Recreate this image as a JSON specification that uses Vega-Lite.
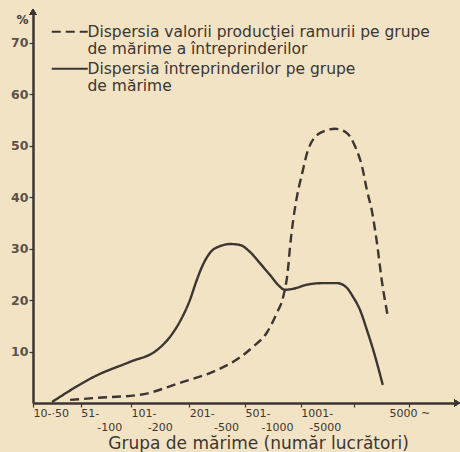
{
  "$schema": "https://vega.github.io/schema/vega-lite/v6.json",
  "width": 424,
  "height": 391,
  "autosize": {"type": "none"},
  "padding": {"left": 33, "top": 12, "right": 3, "bottom": 49},
  "background": "#f3e3c5",
  "config": {"view": {"stroke": null}, "font": "DejaVu Sans"},
  "datasets": {
    "curves": [
      {"series": "Dispersia valorii producţiei ramurii pe grupe de mărime a întreprinderilor", "g": 0.70, "pct": 0.6},
      {"series": "Dispersia valorii producţiei ramurii pe grupe de mărime a întreprinderilor", "g": 1.21, "pct": 1.0},
      {"series": "Dispersia valorii producţiei ramurii pe grupe de mărime a întreprinderilor", "g": 2.02, "pct": 1.6},
      {"series": "Dispersia valorii producţiei ramurii pe grupe de mărime a întreprinderilor", "g": 2.77, "pct": 3.9},
      {"series": "Dispersia valorii producţiei ramurii pe grupe de mărime a întreprinderilor", "g": 3.47, "pct": 6.4},
      {"series": "Dispersia valorii producţiei ramurii pe grupe de mărime a întreprinderilor", "g": 3.91, "pct": 8.9},
      {"series": "Dispersia valorii producţiei ramurii pe grupe de mărime a întreprinderilor", "g": 4.15, "pct": 10.9},
      {"series": "Dispersia valorii producţiei ramurii pe grupe de mărime a întreprinderilor", "g": 4.42, "pct": 13.8},
      {"series": "Dispersia valorii producţiei ramurii pe grupe de mărime a întreprinderilor", "g": 4.60, "pct": 17.5},
      {"series": "Dispersia valorii producţiei ramurii pe grupe de mărime a întreprinderilor", "g": 4.72, "pct": 20.6},
      {"series": "Dispersia valorii producţiei ramurii pe grupe de mărime a întreprinderilor", "g": 4.81, "pct": 25.9},
      {"series": "Dispersia valorii producţiei ramurii pe grupe de mărime a întreprinderilor", "g": 4.85, "pct": 30.4},
      {"series": "Dispersia valorii producţiei ramurii pe grupe de mărime a întreprinderilor", "g": 4.91, "pct": 35.6},
      {"series": "Dispersia valorii producţiei ramurii pe grupe de mărime a întreprinderilor", "g": 4.98, "pct": 40.1},
      {"series": "Dispersia valorii producţiei ramurii pe grupe de mărime a întreprinderilor", "g": 5.08, "pct": 44.7},
      {"series": "Dispersia valorii producţiei ramurii pe grupe de mărime a întreprinderilor", "g": 5.19, "pct": 49.2},
      {"series": "Dispersia valorii producţiei ramurii pe grupe de mărime a întreprinderilor", "g": 5.42, "pct": 52.5},
      {"series": "Dispersia valorii producţiei ramurii pe grupe de mărime a întreprinderilor", "g": 5.70, "pct": 53.3},
      {"series": "Dispersia valorii producţiei ramurii pe grupe de mărime a întreprinderilor", "g": 5.92, "pct": 52.5},
      {"series": "Dispersia valorii producţiei ramurii pe grupe de mărime a întreprinderilor", "g": 6.08, "pct": 49.8},
      {"series": "Dispersia valorii producţiei ramurii pe grupe de mărime a întreprinderilor", "g": 6.21, "pct": 45.9},
      {"series": "Dispersia valorii producţiei ramurii pe grupe de mărime a întreprinderilor", "g": 6.30, "pct": 41.4},
      {"series": "Dispersia valorii producţiei ramurii pe grupe de mărime a întreprinderilor", "g": 6.40, "pct": 37.0},
      {"series": "Dispersia valorii producţiei ramurii pe grupe de mărime a întreprinderilor", "g": 6.49, "pct": 31.1},
      {"series": "Dispersia valorii producţiei ramurii pe grupe de mărime a întreprinderilor", "g": 6.58, "pct": 23.9},
      {"series": "Dispersia valorii producţiei ramurii pe grupe de mărime a întreprinderilor", "g": 6.70, "pct": 16.5},
      {"series": "Dispersia întreprinderilor pe grupe de mărime", "g": 0.36, "pct": 0.2},
      {"series": "Dispersia întreprinderilor pe grupe de mărime", "g": 1.21, "pct": 5.4},
      {"series": "Dispersia întreprinderilor pe grupe de mărime", "g": 1.83, "pct": 8.0},
      {"series": "Dispersia întreprinderilor pe grupe de mărime", "g": 2.34, "pct": 10.3},
      {"series": "Dispersia întreprinderilor pe grupe de mărime", "g": 2.58, "pct": 12.8},
      {"series": "Dispersia întreprinderilor pe grupe de mărime", "g": 2.77, "pct": 15.8},
      {"series": "Dispersia întreprinderilor pe grupe de mărime", "g": 2.96, "pct": 20.0},
      {"series": "Dispersia întreprinderilor pe grupe de mărime", "g": 3.09, "pct": 23.9},
      {"series": "Dispersia întreprinderilor pe grupe de mărime", "g": 3.19, "pct": 26.5},
      {"series": "Dispersia întreprinderilor pe grupe de mărime", "g": 3.34, "pct": 29.2},
      {"series": "Dispersia întreprinderilor pe grupe de mărime", "g": 3.53, "pct": 30.5},
      {"series": "Dispersia întreprinderilor pe grupe de mărime", "g": 3.72, "pct": 30.9},
      {"series": "Dispersia întreprinderilor pe grupe de mărime", "g": 3.91, "pct": 30.7},
      {"series": "Dispersia întreprinderilor pe grupe de mărime", "g": 4.09, "pct": 29.4},
      {"series": "Dispersia întreprinderilor pe grupe de mărime", "g": 4.28, "pct": 27.2},
      {"series": "Dispersia întreprinderilor pe grupe de mărime", "g": 4.47, "pct": 24.9},
      {"series": "Dispersia întreprinderilor pe grupe de mărime", "g": 4.66, "pct": 22.6},
      {"series": "Dispersia întreprinderilor pe grupe de mărime", "g": 4.75, "pct": 22.0},
      {"series": "Dispersia întreprinderilor pe grupe de mărime", "g": 4.91, "pct": 22.2},
      {"series": "Dispersia întreprinderilor pe grupe de mărime", "g": 5.17, "pct": 23.0},
      {"series": "Dispersia întreprinderilor pe grupe de mărime", "g": 5.47, "pct": 23.3},
      {"series": "Dispersia întreprinderilor pe grupe de mărime", "g": 5.74, "pct": 23.3},
      {"series": "Dispersia întreprinderilor pe grupe de mărime", "g": 5.92, "pct": 22.4},
      {"series": "Dispersia întreprinderilor pe grupe de mărime", "g": 6.04, "pct": 20.6},
      {"series": "Dispersia întreprinderilor pe grupe de mărime", "g": 6.17, "pct": 18.1},
      {"series": "Dispersia întreprinderilor pe grupe de mărime", "g": 6.30, "pct": 14.2},
      {"series": "Dispersia întreprinderilor pe grupe de mărime", "g": 6.42, "pct": 10.3},
      {"series": "Dispersia întreprinderilor pe grupe de mărime", "g": 6.60, "pct": 3.5}
    ]
  },
  "data": {"name": "curves"},
  "layer": [
    {
      "mark": {"type": "line", "interpolate": "monotone", "strokeWidth": 2.4, "color": "#3b3631", "clip": false},
      "encoding": {
        "x": {
          "field": "g", "type": "quantitative",
          "scale": {"domain": [0, 8], "nice": false, "zero": false},
          "axis": {
            "values": [0, 0.9, 1.85, 2.95, 4.0, 5.05, 6.05, 7.1],
            "grid": false,
            "domainColor": "#3b3631", "domainWidth": 2.5,
            "tickColor": "#3b3631", "tickWidth": 1.2, "tickSize": 4,
            "labelFont": "DejaVu Sans", "labelFontSize": 11, "labelColor": "#3b3631",
            "labelBaseline": "top", "labelPadding": 0, "labelLineHeight": 14,
            "labelOverlap": false, "labelFlush": false, "labelBound": false,
            "labelAlign": {"condition": {"test": "datum.value > 7", "value": "center"}, "value": "left"},
            "labelExpr": "datum.value < 0.5 ? '10-·50' : datum.value < 1.5 ? ['51-', '\u2800\u2800-100'] : datum.value < 2.5 ? ['101-', '\u2800\u2800-200'] : datum.value < 3.5 ? ['201-', '\u2800\u2800\u2800-500'] : datum.value < 4.5 ? ['501-', '\u2800\u2800-1000'] : datum.value < 5.5 ? ['1001-', '\u2800-5000'] : datum.value < 6.5 ? '' : '5000 ~'",
            "title": "Grupa de mărime (număr lucrători)",
            "titleFont": "DejaVu Sans", "titleFontSize": 17, "titleFontWeight": "normal", "titleColor": "#3b3631",
            "titleX": 225, "titleY": 40, "titleBaseline": "middle", "titleAnchor": null, "titleAlign": "center"
          }
        },
        "y": {
          "field": "pct", "type": "quantitative",
          "scale": {"domain": [0, 76], "nice": false},
          "axis": {
            "values": [10, 20, 30, 40, 50, 60, 70],
            "grid": false,
            "domainColor": "#3b3631", "domainWidth": 2.5,
            "tickColor": "#3b3631", "tickWidth": 1.2, "tickSize": 4,
            "labelFont": "DejaVu Sans", "labelFontSize": 12.5, "labelFontWeight": "bold", "labelColor": "#5a524a",
            "labelPadding": 1,
            "title": "%", "titleAngle": 0, "titleX": -11, "titleY": 7,
            "titleFontSize": 12, "titleFontWeight": "bold", "titleColor": "#3b3631",
            "titleAlign": "center", "titleBaseline": "middle"
          }
        },
        "strokeDash": {
          "field": "series", "type": "nominal",
          "scale": {
            "domain": ["Dispersia valorii producţiei ramurii pe grupe de mărime a întreprinderilor", "Dispersia întreprinderilor pe grupe de mărime"],
            "range": [[9, 5], [1, 0]]
          },
          "legend": {
            "orient": "none", "legendX": 29, "legendY": 12,
            "title": null, "padding": 0,
            "symbolType": "M-3,0H3", "symbolSize": 144, "symbolStrokeWidth": 2.2, "symbolStrokeColor": "#3b3631",
            "labelFont": "DejaVu Sans", "labelFontSize": 15.5, "labelColor": "#3b3631", "labelLimit": 0, "labelOffset": 10,
            "rowPadding": 3,
            "labelExpr": "indexof(datum.label, 'valorii') >= 0 ? ['Dispersia valorii producţiei ramurii pe grupe', 'de mărime a întreprinderilor'] : ['Dispersia întreprinderilor pe grupe', 'de mărime']"
          }
        }
      }
    },
    {
      "mark": {"type": "point", "shape": "triangle-up", "filled": true, "size": 45, "color": "#3b3631", "opacity": 1, "clip": false},
      "encoding": {"x": {"datum": 0}, "y": {"datum": 76}}
    },
    {
      "mark": {"type": "point", "shape": "triangle-right", "filled": true, "size": 45, "color": "#3b3631", "opacity": 1, "clip": false},
      "encoding": {"x": {"datum": 8}, "y": {"datum": 0}}
    }
  ]
}
